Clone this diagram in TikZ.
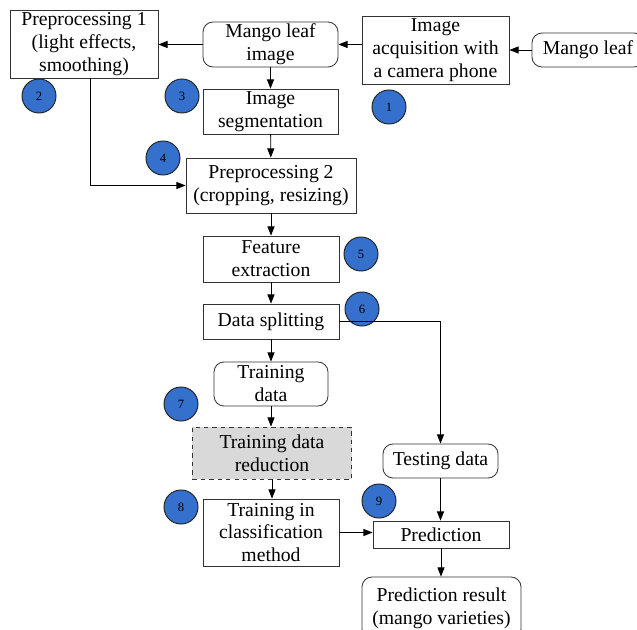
\documentclass[tikz,border=0pt]{standalone}
\usepackage{fontspec}
\setmainfont{Liberation Serif}
\usetikzlibrary{arrows.meta}
\definecolor{numblue}{RGB}{52,112,204}

\begin{document}
\begin{tikzpicture}[x=0.025cm, y=-0.025cm,
  box/.style={rectangle, draw=black!80, line width=0.6pt, align=center, inner sep=1pt,
              font=\fontsize{14}{16.3}\selectfont},
  term/.style={box, rounded corners=0.25cm},
  stepnum/.style={circle, draw=black!85, line width=0.7pt, fill=numblue, minimum size=0.85cm,
                  inner sep=0pt, font=\fontsize{9}{10}\selectfont},
  flow/.style={-{Triangle[length=6.5pt,width=5pt]}, line width=0.6pt}]
\useasboundingbox (0,0) rectangle (637,630);

\node[box, minimum width=3.7cm, minimum height=1.7cm] (pre1) at (84,44) {Preprocessing 1\\(light effects,\\smoothing)};
\node[term, minimum width=3.375cm, minimum height=1.125cm] (leafimg) at (270.5,44.5) {Mango leaf\\image};
\node[box, minimum width=3.675cm, minimum height=1.7cm] (acq) at (435.5,50) {Image\\acquisition with\\a camera phone};
\node[term, minimum width=2.8cm, minimum height=0.85cm] (leaf) at (588,50) {Mango leaf};
\node[box, minimum width=3.375cm, minimum height=1.125cm] (seg) at (270.5,111.5) {Image\\segmentation};
\node[box, minimum width=4.25cm, minimum height=1.375cm] (pre2) at (271,185.5) {Preprocessing 2\\(cropping, resizing)};
\node[box, minimum width=3.4cm, minimum height=1.15cm] (feat) at (271,259) {Feature\\extraction};
\node[box, minimum width=3.4cm, minimum height=0.875cm] (split) at (271,321.5) {Data splitting};
\node[term, minimum width=2.85cm, minimum height=1.1cm] (train) at (271,384) {Training\\data};
\node[box, dashed, fill=black!15, minimum width=3.975cm, minimum height=1.3cm] (reduce) at (272,453) {Training data\\reduction};
\node[box, minimum width=3.4cm, minimum height=1.675cm] (classify) at (271,532.5) {Training in\\classification\\method};
\node[term, minimum width=2.875cm, minimum height=0.85cm] (test) at (440.5,461) {Testing data};
\node[box, minimum width=3.4cm, minimum height=0.675cm] (pred) at (441,534.5) {Prediction};
\node[term, minimum width=3.975cm, minimum height=1.55cm] (result) at (441.5,608) {Prediction result\\(mango varieties)};

\node[stepnum] (n1) at (389,107) {1};
\node[stepnum] (n2) at (39,96) {2};
\node[stepnum] (n3) at (182,96) {3};
\node[stepnum] (n4) at (163,158) {4};
\node[stepnum] (n5) at (361,254) {5};
\node[stepnum] (n6) at (362,309) {6};
\node[stepnum] (n7) at (181,404) {7};
\node[stepnum] (n8) at (181,507) {8};
\node[stepnum] (n9) at (379,501) {9};

\draw[flow] (leaf) -- (acq);
\draw[flow] (acq.west |- leafimg) -- (leafimg);
\draw[flow] (leafimg.west) -- (leafimg.west -| pre1.east);
\draw[flow] (leafimg) -- (seg);
\draw[flow] ([xshift=0.15cm]pre1.south) |- (pre2.west);
\draw[flow] (seg) -- (pre2);
\draw[flow] (pre2) -- (feat);
\draw[flow] (feat) -- (split);
\draw[flow] (split) -- (train);
\draw[flow] (train) -- (train |- reduce.north);
\draw[flow] (reduce) -- (reduce |- classify.north);
\draw[flow] (split.east) -| (test.north);
\draw[flow] (classify.east) -- (classify.east -| pred.west);
\draw[flow] (test) -- (test |- pred.north);
\draw[flow] (pred) -- (pred |- result.north);

\end{tikzpicture}
\end{document}
